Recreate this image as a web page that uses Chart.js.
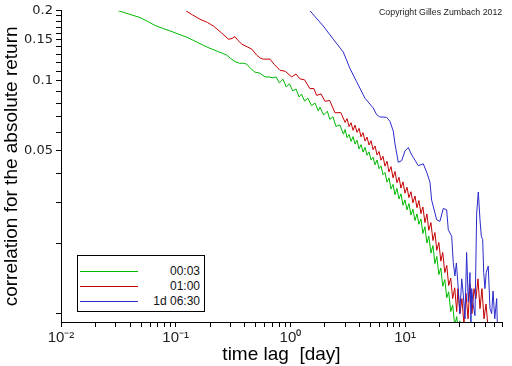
<!DOCTYPE html>
<html>
<head>
<meta charset="utf-8">
<script src="https://cdn.jsdelivr.net/npm/chart.js@4/dist/chart.umd.min.js"></script>
<style>
  html, body { margin: 0; padding: 0; background: #fff; }
  #wrap { position: relative; width: 512px; height: 366px; }
  #chart { position: absolute; left: 0; top: 0; }
  #copyright { position: absolute; left: 379px; top: 7px; font: 8.8px "Liberation Sans", Arial, sans-serif; color: #222; white-space: nowrap; }
  #legend { position: absolute; left: 77px; top: 255px; width: 126px; height: 55px; border: 1px solid #000; background: #fff; }
  .item { position: absolute; left: 0; width: 126px; height: 14px; }
  .item .line { position: absolute; left: 2px; top: 7px; width: 58px; height: 0; border-top: 1px solid; }
  .item .lab { position: absolute; right: 4px; top: 0; font: 12px "Liberation Sans", Arial, sans-serif; color: #111; line-height: 14px; }
</style>
</head>
<body>
<div id="wrap">
  <canvas id="chart" width="512" height="366"></canvas>
  <div id="copyright">Copyright Gilles Zumbach 2012</div>
  <div id="legend"></div>
</div>
<script>
// series names and colours
const seriesNames = ["00:03", "01:00", "1d 06:30"];
const seriesColors = ["#00b800", "#c40000", "#2b2bcc"];

// 00:03 (green)
const lagGreen = [0.0316, 0.040, 0.0489, 0.057, 0.0661, 0.077, 0.0891, 0.105, 0.125, 0.14, 0.152, 0.175, 0.199, 0.23, 0.26, 0.279, 0.30, 0.329, 0.36, 0.39, 0.416, 0.45, 0.491, 0.54, 0.601, 0.65, 0.705,
  0.75, 0.80, 0.862, 0.92, 0.98, 1.05, 1.12, 1.19, 1.25, 1.33, 1.42, 1.53, 1.64, 1.75, 1.81, 1.95, 2.1, 2.21, 2.35, 2.5, 2.7, 2.9,
  3.0, 3.12, 3.25, 3.38, 3.52, 3.66, 3.81, 3.97, 4.13, 4.3, 4.48, 4.66, 4.85, 5.05, 5.26, 5.47, 5.7, 5.93, 6.17, 6.42, 6.68, 6.96,
  7.24, 7.54, 7.85, 8.17, 8.5, 8.85, 9.21, 9.59, 9.98, 10.4, 10.8, 11.25, 11.7, 12.2, 12.7, 13.2, 13.75,
  14.3, 14.9, 15.5, 16.1, 16.8, 17.5, 18.2, 18.9, 19.7, 20.5, 21.3, 22.2, 23.1, 24.0, 25.0, 26.0, 27.1, 28.2, 29.0, 30.0, 31.0];
const corrGreen = [0.200, 0.193, 0.187, 0.180, 0.173, 0.168, 0.164, 0.159, 0.154, 0.150, 0.147, 0.142, 0.138, 0.134, 0.131, 0.129, 0.125, 0.121, 0.119, 0.119, 0.118, 0.113, 0.109, 0.108, 0.104, 0.104, 0.103,
  0.104, 0.098, 0.1016, 0.0941, 0.0972, 0.0905, 0.0923, 0.0853, 0.0877, 0.0819, 0.0843, 0.0782, 0.0803, 0.0743, 0.0771, 0.0713, 0.0740, 0.0683, 0.0701, 0.0637, 0.0647, 0.0590,
  0.0618, 0.0570, 0.0588, 0.0549, 0.0576, 0.0535, 0.0556, 0.0510, 0.0532, 0.0494, 0.0518, 0.0479, 0.0495, 0.0457, 0.0470, 0.0436, 0.0457, 0.0419, 0.0431, 0.0395, 0.0404, 0.0367,
  0.0383, 0.0343, 0.0359, 0.0324, 0.0345, 0.0311, 0.0327, 0.0292, 0.0308, 0.0279, 0.0297, 0.0265, 0.0281, 0.0251, 0.0268, 0.0242, 0.0255,
  0.0221, 0.0236, 0.0201, 0.0215, 0.0182, 0.0196, 0.0164, 0.0176, 0.0147, 0.0157, 0.0131, 0.0140, 0.0117, 0.0124, 0.0102, 0.0109, 0.0089, 0.0097, 0.0086, 0.0093, 0.0085];

// 01:00 (red)
const lagRed = [0.123, 0.14, 0.163, 0.19, 0.213, 0.25, 0.288, 0.31, 0.329, 0.35, 0.376, 0.42, 0.46, 0.508, 0.55, 0.581, 0.664, 0.72, 0.812,
  0.9, 1.026, 1.12, 1.212, 1.33, 1.482, 1.6, 1.695, 1.85, 2.003, 2.2, 2.449, 2.75,
  3.0, 3.12, 3.25, 3.38, 3.52, 3.66, 3.81, 3.97, 4.13, 4.3, 4.48, 4.66, 4.85, 5.05, 5.26, 5.47, 5.7, 5.93, 6.17, 6.42, 6.68, 6.96,
  7.24, 7.54, 7.85, 8.17, 8.5, 8.85, 9.21, 9.59, 9.98, 10.4, 10.8, 11.25, 11.7, 12.2, 12.7, 13.2, 13.75,
  14.3, 14.9, 15.5, 16.1, 16.8, 17.5, 18.2, 18.9, 19.7, 20.5, 21.3, 22.2, 23.1, 24.0, 25.0, 26.0, 27.1, 28.2,
  28.9, 30.1, 31.3, 32.6, 34.0, 35.4, 36.8, 38.3, 39.9, 41.5, 43.2, 45.0, 46.8, 48.8, 50.8, 52.8];
const corrRed = [0.200, 0.192, 0.184, 0.178, 0.172, 0.161, 0.151, 0.152, 0.155, 0.149, 0.144, 0.140, 0.137, 0.129, 0.125, 0.124, 0.124, 0.118, 0.111,
  0.110, 0.104, 0.107, 0.102, 0.1010, 0.0925, 0.0928, 0.0866, 0.0879, 0.0817, 0.0824, 0.0729, 0.0731,
  0.0663, 0.0688, 0.0636, 0.0661, 0.0613, 0.0645, 0.0601, 0.0625, 0.0575, 0.0599, 0.0551, 0.0573, 0.0530, 0.0553, 0.0506, 0.0525, 0.0480, 0.0497, 0.0456, 0.0474, 0.0430, 0.0451,
  0.0406, 0.0428, 0.0383, 0.0408, 0.0365, 0.0385, 0.0346, 0.0368, 0.0329, 0.0349, 0.0315, 0.0334, 0.0299, 0.0320, 0.0285, 0.0306, 0.0269,
  0.0287, 0.0246, 0.0268, 0.0228, 0.0246, 0.0206, 0.0223, 0.0187, 0.0202, 0.0168, 0.0183, 0.0150, 0.0161, 0.0132, 0.0142, 0.0116, 0.0129, 0.0102,
  0.0128, 0.0100, 0.0116, 0.0090, 0.0122, 0.0095, 0.0134, 0.0100, 0.0128, 0.0116, 0.0141, 0.0105, 0.0128, 0.0095, 0.0110, 0.0088];

// 1d 06:30 (blue)
const lagBlue = [1.482, 1.936, 2.366, 2.892, 3.308, 3.785, 4.47, 5.28, 5.65, 6.0, 6.91, 7.38, 7.89, 8.17, 8.73, 9.34, 9.98, 10.66, 11.2, 11.79, 13.03, 14.41, 15.43, 16.48, 17.05, 18.86, 20.14,
  21.53, 23.05, 23.81, 25.5, 26.3, 27.2, 28.0, 29.1, 30.0, 31.2, 32.2, 33.3, 34.4, 35.6, 36.8, 37.5, 38.1, 39.2, 40.7,
  42.1, 43.5, 45.0, 46.2, 47.5, 48.5, 49.7, 51.0, 53.1, 55.0, 56.9, 58.5, 60.5, 62.9, 63.8];
const corrBlue = [0.200, 0.172, 0.151, 0.133, 0.113, 0.0991, 0.0842, 0.0764, 0.0716, 0.0700, 0.0697, 0.0670, 0.0608, 0.0535, 0.0447, 0.0454, 0.0500, 0.0517, 0.0490, 0.0469, 0.0432, 0.0440, 0.0405, 0.0367, 0.0307, 0.0253, 0.0249,
  0.0283, 0.0279, 0.0229, 0.0215, 0.0166, 0.0145, 0.0165, 0.0128, 0.0100, 0.0141, 0.0120, 0.0095, 0.0183, 0.0112, 0.0150, 0.0092, 0.0128, 0.0110, 0.0098,
  0.0270, 0.0333, 0.0253, 0.0215, 0.0208, 0.0150, 0.0128, 0.0150, 0.0160, 0.0105, 0.0100, 0.0125, 0.0095, 0.0116, 0.0088];

// axis ticks
const xTickValues = [0.01, 0.02, 0.03, 0.04, 0.05, 0.06, 0.07, 0.08, 0.09,
  0.1, 0.2, 0.3, 0.4, 0.5, 0.6, 0.7, 0.8, 0.9,
  1, 2, 3, 4, 5, 6, 7, 8, 9,
  10, 20, 30, 40, 50, 60, 70];
const xLabelValues = [0.01, 0.1, 1, 10];
const xLabelTexts = ["10\u207B\u00B2", "10\u207B\u00B9", "10\u2070", "10\u00B9"];
const yTickValues = [0.01, 0.02, 0.03, 0.04, 0.05, 0.06, 0.07, 0.08, 0.09,
  0.1, 0.11, 0.12, 0.13, 0.14, 0.15, 0.16, 0.17, 0.18, 0.19, 0.2];
const yLabelValues = [0.05, 0.1, 0.15, 0.2];
const yLabelTexts = ["0.05", "0.1", "0.15", "0.2"];

function pairs(xs, ys) {
    return xs.map((x, i) => ({ x: x, y: ys[i] }));
}

// legend
const legend = document.getElementById("legend");
seriesNames.forEach((name, i) => {
    const item = document.createElement("div");
    item.className = "item";
    item.style.top = (8 + i * 15) + "px";
    item.innerHTML = `<div class="line" style="border-color:${seriesColors[i]}"></div><div class="lab">${name}</div>`;
    legend.appendChild(item);
});

const lineSet = (label, data, color) => ({
    label: label,
    data: data,
    borderColor: color,
    backgroundColor: color,
    borderWidth: 1,
    pointRadius: 0,
    tension: 0,
    fill: false
});

const ctx = document.getElementById("chart").getContext("2d");
new Chart(ctx, {
    type: "line",
    data: {
        // first dataset is drawn on top
        datasets: [
            lineSet(seriesNames[2], pairs(lagBlue, corrBlue), seriesColors[2]),
            lineSet(seriesNames[1], pairs(lagRed, corrRed), seriesColors[1]),
            lineSet(seriesNames[0], pairs(lagGreen, corrGreen), seriesColors[0])
        ]
    },
    options: {
        responsive: false,
        animation: false,
        layout: { padding: { top: 7, right: 10, left: 0, bottom: 0 } },
        plugins: {
            legend: { display: false },
            tooltip: { enabled: false }
        },
        scales: {
            x: {
                type: "logarithmic",
                min: 0.01,
                max: 70,
                border: { color: "#000", width: 1 },
                grid: { drawOnChartArea: false, color: "#000", tickLength: 5 },
                ticks: {
                    autoSkip: false,
                    maxRotation: 0,
                    padding: 2,
                    color: "#222",
                    font: { family: "Liberation Sans", size: 15 },
                    callback: (v) => {
                        const i = xLabelValues.indexOf(v);
                        return i >= 0 ? xLabelTexts[i] : "";
                    }
                },
                title: {
                    display: true,
                    text: "time lag  [day]",
                    color: "#000",
                    font: { family: "Liberation Sans", size: 19 },
                    padding: { top: 0, bottom: 0 }
                },
                afterBuildTicks: (s) => { s.ticks = xTickValues.map(v => ({ value: v })); },
                afterFit: (s) => { s.height = 44; }
            },
            y: {
                type: "logarithmic",
                min: 0.0092,
                max: 0.2,
                border: { color: "#000", width: 1 },
                grid: { drawOnChartArea: false, color: "#000", tickLength: 5 },
                ticks: {
                    autoSkip: false,
                    padding: 3,
                    color: "#222",
                    font: { family: "DejaVu Sans", size: 13 },
                    callback: (v) => {
                        const i = yLabelValues.indexOf(v);
                        return i >= 0 ? yLabelTexts[i] : "";
                    }
                },
                title: {
                    display: true,
                    text: "correlation for the absolute return",
                    color: "#000",
                    font: { family: "Liberation Sans", size: 19 },
                    padding: { top: 0, bottom: 0 }
                },
                afterBuildTicks: (s) => { s.ticks = yTickValues.map(v => ({ value: v })); },
                afterFit: (s) => { s.width = 61; }
            }
        }
    }
});
</script>
</body>
</html>
